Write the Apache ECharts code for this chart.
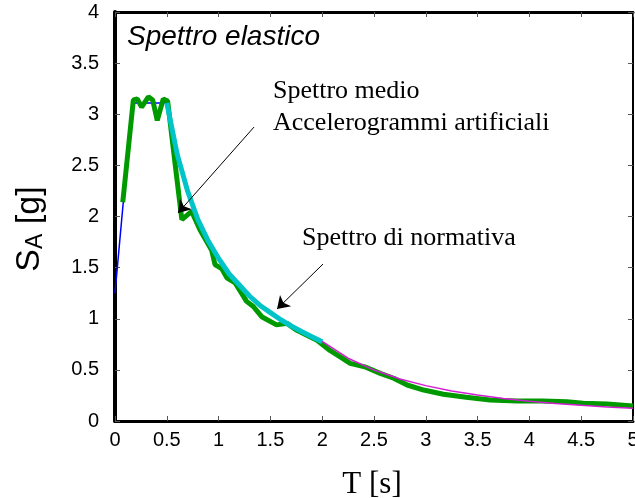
<!DOCTYPE html>
<html>
<head>
<meta charset="utf-8">
<script src="https://cdn.jsdelivr.net/npm/echarts@6/dist/echarts.min.js"></script>
<style>
  html, body { margin: 0; padding: 0; background: #fff; }
  #chart { width: 635px; height: 498px; }
</style>
</head>
<body>
<div id="chart"></div>
<script>
// periods T [s] and spectral accelerations SA [g]
const normBlueT = [0, 0.167, 0.5];
const normBlueS = [1.25, 3.11, 3.11];

const normCyanT = [0.5, 0.6, 0.7, 0.8, 0.9, 1.0, 1.1, 1.2, 1.3, 1.4, 1.5, 1.6, 1.7, 1.8, 1.9, 2.0];
const normCyanS = [3.11, 2.61, 2.25, 1.97, 1.76, 1.59, 1.44, 1.33, 1.22, 1.13, 1.06, 0.99, 0.93, 0.875, 0.825, 0.775];

const normMagT = [2.0, 2.25, 2.5, 2.75, 3.0, 3.25, 3.5, 3.75, 4.0, 4.25, 4.5, 4.75, 5.0];
const normMagS = [0.778, 0.614, 0.498, 0.411, 0.346, 0.294, 0.254, 0.221, 0.194, 0.172, 0.154, 0.138, 0.124];

const medioT = [0.075, 0.177, 0.215, 0.257, 0.322, 0.364, 0.408, 0.466, 0.508, 0.595, 0.645, 0.74, 0.82,
  0.933, 0.965, 1.03, 1.08, 1.16, 1.27, 1.335, 1.416, 1.56, 1.66, 1.75, 1.95, 2.075, 2.2, 2.27, 2.41,
  2.56, 2.69, 2.82, 2.98, 3.17, 3.39, 3.62, 3.88, 4.13, 4.36, 4.52, 4.75, 5.0];
const medioS = [2.14, 3.14, 3.15, 3.07, 3.17, 3.14, 2.94, 3.15, 3.13, 2.39, 1.97, 2.05, 1.87,
  1.67, 1.53, 1.49, 1.40, 1.35, 1.17, 1.12, 1.02, 0.94, 0.955, 0.89, 0.79, 0.69, 0.61, 0.564, 0.53,
  0.466, 0.418, 0.352, 0.303, 0.261, 0.232, 0.205, 0.196, 0.196, 0.189, 0.173, 0.166, 0.147];

// annotation arrows: [from, to] in data units
const arrowLines = [
  [[1.342, 2.875], [0.608, 2.034]],
  [[2.008, 1.535], [1.564, 1.095]]
];

const SANS = "'Liberation Sans', Arial, sans-serif";
const SERIF = "'Liberation Serif', 'Times New Roman', serif";

const pairs = (xs, ys) => xs.map((x, i) => [x, ys[i]]);

const chart = echarts.init(document.getElementById('chart'), null, { renderer: 'canvas' });

const tick = { show: true, inside: true, length: 5, lineStyle: { color: '#555', width: 1 } };
const xBase = { type: 'value', min: 0, max: 5, interval: 0.5, splitLine: { show: false }, axisTick: tick };
const yBase = { type: 'value', min: 0, max: 4, interval: 0.5, splitLine: { show: false }, axisTick: tick };
const line = w => ({ show: true, onZero: false, lineStyle: { color: '#000', width: w } });

const option = {
  animation: false,
  backgroundColor: '#fff',
  grid: { left: 115, right: 2, top: 12, bottom: 77, outerBoundsMode: 'none' },
  xAxis: [
    Object.assign({}, xBase, {
      position: 'bottom',
      axisLine: line(3),
      axisLabel: { color: '#000', fontSize: 20, fontFamily: SANS, margin: 9 }
    }),
    Object.assign({}, xBase, {
      position: 'top',
      axisLine: line(3),
      axisLabel: { show: false }
    })
  ],
  yAxis: [
    Object.assign({}, yBase, {
      position: 'left',
      axisLine: line(4),
      axisLabel: { color: '#000', fontSize: 20, fontFamily: SANS, margin: 16 }
    }),
    Object.assign({}, yBase, {
      position: 'right',
      axisLine: line(2),
      axisLabel: { show: false }
    })
  ],
  series: [
    {
      name: 'normativa_1',
      type: 'line',
      data: pairs(normBlueT, normBlueS),
      symbol: 'none',
      lineStyle: { color: '#0000ff', width: 1.5 },
      z: 2,
      markLine: {
        silent: true,
        symbol: ['none', 'arrow'],
        symbolSize: 12,
        label: { show: false },
        lineStyle: { color: '#000', width: 1, type: 'solid' },
        data: arrowLines.map(a => [{ coord: a[0] }, { coord: a[1] }])
      }
    },
    {
      name: 'medio',
      type: 'line',
      data: pairs(medioT, medioS),
      symbol: 'none',
      lineStyle: { color: '#009a00', width: 5 },
      z: 3
    },
    {
      name: 'normativa_2',
      type: 'line',
      data: pairs(normCyanT, normCyanS),
      symbol: 'none',
      lineStyle: { color: '#00c4c8', width: 5 },
      z: 4
    },
    {
      name: 'normativa_3',
      type: 'line',
      data: pairs(normMagT, normMagS),
      symbol: 'none',
      lineStyle: { color: '#d21ed2', width: 1.5 },
      z: 5
    }
  ],
  graphic: [
    {
      type: 'text', x: 127, y: 37,
      style: { text: 'Spettro elastico', font: 'italic 28px ' + SANS, fill: '#000', verticalAlign: 'middle' }
    },
    {
      type: 'text', x: 273, y: 91,
      style: { text: 'Spettro medio', font: '26px ' + SERIF, fill: '#000', verticalAlign: 'middle' }
    },
    {
      type: 'text', x: 273, y: 123,
      style: { text: 'Accelerogrammi artificiali', font: '26px ' + SERIF, fill: '#000', verticalAlign: 'middle' }
    },
    {
      type: 'text', x: 302, y: 238,
      style: { text: 'Spettro di normativa', font: '26px ' + SERIF, fill: '#000', verticalAlign: 'middle' }
    },
    {
      type: 'text', x: 372, y: 485,
      style: { text: 'T [s]', font: '31px ' + SERIF, fill: '#000', align: 'center', verticalAlign: 'middle' }
    },
    {
      type: 'text', x: 30, y: 229, rotation: Math.PI / 2,
      style: {
        text: '{s|S}{a|A}{s| [g]}',
        align: 'center', verticalAlign: 'middle',
        rich: {
          s: { fontSize: 34, fontFamily: SANS, fill: '#000' },
          a: { fontSize: 23, fontFamily: SANS, fill: '#000', verticalAlign: 'bottom' }
        }
      }
    }
  ]
};

chart.setOption(option);
</script>
</body>
</html>
